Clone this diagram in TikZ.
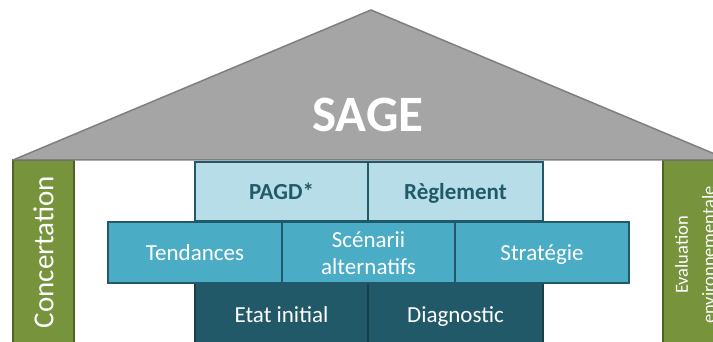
\documentclass[tikz,border=0pt]{standalone}
\usepackage{fontspec}
\setmainfont{Carlito}
\definecolor{roof}{HTML}{A5A5A5}
\definecolor{roofline}{HTML}{7F7F7F}
\definecolor{pillar}{HTML}{77933C}
\definecolor{pillarline}{HTML}{4F6228}
\definecolor{light}{HTML}{B7DEE8}
\definecolor{mid}{HTML}{4BACC6}
\definecolor{dark}{HTML}{215968}
\definecolor{darkline}{HTML}{17404B}
\tikzset{
  pillarbox/.style={fill=pillar,draw=pillarline,line width=1.5pt},
  topbox/.style={fill=light,draw=dark,line width=1.5pt},
  midbox/.style={fill=mid,draw=dark,line width=1.5pt},
  botbox/.style={fill=dark,draw=darkline,line width=1.5pt},
  toptext/.style={anchor=base,text=dark,font=\fontsize{23}{28}\selectfont\bfseries},
  whitetext/.style={anchor=base,text=white,font=\fontsize{23}{28}\selectfont,align=center},
}
\begin{document}
\begin{tikzpicture}[x=1pt,y=-1pt]
\clip (0,0) rectangle (713,342);
\fill[white] (0,0) rectangle (713,342);
% pillars
\draw[pillarbox] (13,160) rectangle (74,360);
\draw[pillarbox] (663,160) rectangle (724,360);
\node[text=white,rotate=90,font=\fontsize{29}{34}\selectfont] (conc) at (43.5,252) {Concertation};
\node[text=white,rotate=90,align=center,font=\fontsize{18.5}{27}\selectfont] (eval) at (695,255) {Evaluation\\environnementale};
% roof
\draw[fill=roof,draw=roofline,line width=1.5pt,line join=round] (13,160) -- (371,10) -- (729,160) -- cycle;
\node[anchor=base,text=white,font=\fontsize{51}{60}\selectfont\bfseries] (sage) at (368,132) {SAGE};
% top row
\draw[topbox] (195,162) rectangle (368,221);
\draw[topbox] (368,162) rectangle (543,221);
\node[toptext] (pagd) at (281.5,200) {PAGD*};
\node[toptext] (regl) at (455.5,200) {Règlement};
% bottom row
\draw[botbox] (195,283) rectangle (368,360);
\draw[botbox] (368,283) rectangle (543,360);
\node[whitetext] (etat) at (281.5,322) {Etat initial};
\node[whitetext] (diag) at (455.5,322) {Diagnostic};
% middle row
\draw[midbox] (108,222) rectangle (282,283);
\draw[midbox] (282,222) rectangle (455,283);
\draw[midbox] (455,222) rectangle (629,283);
\node[whitetext] (tend) at (195,261) {Tendances};
\node[whitetext] (scen) at (368.5,275) {Scénarii\\alternatifs};
\node[whitetext] (strat) at (542,261) {Stratégie};
\end{tikzpicture}
\end{document}
